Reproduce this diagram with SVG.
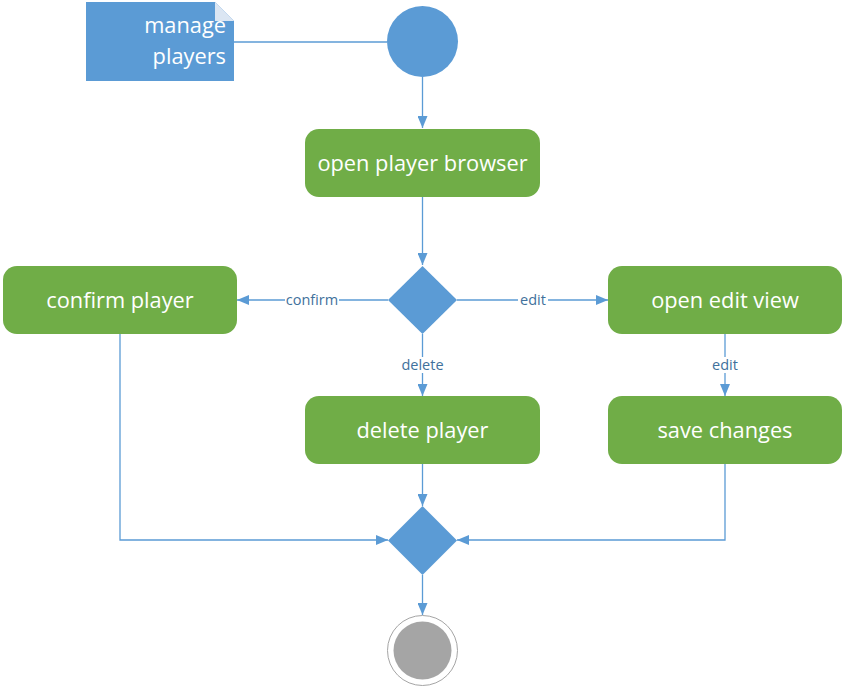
<svg xmlns="http://www.w3.org/2000/svg" width="845" height="688" viewBox="0 0 845 688">
<style>
.act{fill:#70ad47}
.at{font-family:"Open Sans","Liberation Sans",sans-serif;font-size:21.8px;fill:#ffffff;text-anchor:middle}
.dec{fill:#5b9bd5}
.ln{fill:none;stroke:#5b9bd5;stroke-width:1.3}
.lbl{font-family:"Open Sans","Liberation Sans",sans-serif;font-size:14.5px;fill:#41719c;text-anchor:middle}
.lblbg{fill:#ffffff}
</style>
<defs>
<marker id="ah" markerWidth="12" markerHeight="10" refX="12" refY="5" orient="auto" markerUnits="userSpaceOnUse">
<path d="M0,0 L12,5 L0,10 Z" fill="#5b9bd5"/>
</marker>
</defs>
<g id="connectors">
<path class="ln" d="M234,42 H387"/>
<path class="ln" d="M422.5,77 V128" marker-end="url(#ah)"/>
<path class="ln" d="M422.5,197 V265" marker-end="url(#ah)"/>
<path class="ln" d="M388,300 H237" marker-end="url(#ah)"/>
<path class="ln" d="M457,300 H608" marker-end="url(#ah)"/>
<path class="ln" d="M422.5,334 V396" marker-end="url(#ah)"/>
<path class="ln" d="M725,334 V396" marker-end="url(#ah)"/>
<path class="ln" d="M422.5,464 V506" marker-end="url(#ah)"/>
<path class="ln" d="M120,334 V540 H388" marker-end="url(#ah)"/>
<path class="ln" d="M725,464 V540 H457" marker-end="url(#ah)"/>
<path class="ln" d="M422.5,575 V615" marker-end="url(#ah)"/>
<rect class="lblbg" x="285" y="292" width="54" height="16"/>
<text class="lbl" x="312" y="305">confirm</text>
<rect class="lblbg" x="518" y="292" width="30" height="16"/>
<text class="lbl" x="533" y="305">edit</text>
<rect class="lblbg" x="399" y="357" width="47" height="16"/>
<text class="lbl" x="422.5" y="370">delete</text>
<rect class="lblbg" x="710" y="357" width="30" height="16"/>
<text class="lbl" x="725" y="370">edit</text>
</g>
<g id="note">
<path d="M86,2 H215 L234,21 V81 H86 Z" fill="#5b9bd5"/>
<path d="M215,2 L234,21 H215 Z" fill="#dbe6f3"/>
<text class="at" x="226" y="33" style="text-anchor:end">manage</text>
<text class="at" x="226" y="64" style="text-anchor:end">players</text>
</g>
<g id="start">
<circle cx="422.5" cy="41.5" r="35.5" fill="#5b9bd5"/>
</g>
<g id="open-player-browser">
<rect class="act" x="305" y="129" width="235" height="68" rx="14"/>
<text class="at" x="422.5" y="170.5">open player browser</text>
</g>
<g id="decision1">
<path class="dec" d="M422.5,266 L457,300 L422.5,334 L388,300 Z"/>
</g>
<g id="confirm-player">
<rect class="act" x="3" y="266" width="234" height="68" rx="14"/>
<text class="at" x="120" y="307.5">confirm player</text>
</g>
<g id="open-edit-view">
<rect class="act" x="608" y="266" width="234" height="68" rx="14"/>
<text class="at" x="725" y="307.5">open edit view</text>
</g>
<g id="delete-player">
<rect class="act" x="305" y="396" width="235" height="68" rx="14"/>
<text class="at" x="422.5" y="437.5">delete player</text>
</g>
<g id="save-changes">
<rect class="act" x="608" y="396" width="234" height="68" rx="14"/>
<text class="at" x="725" y="437.5">save changes</text>
</g>
<g id="decision2">
<path class="dec" d="M422.5,506 L457,540.5 L422.5,575 L388,540.5 Z"/>
</g>
<g id="end">
<circle cx="422.5" cy="650.5" r="35" fill="#ffffff" stroke="#a5a5a5" stroke-width="1"/>
<circle cx="422.5" cy="650.5" r="29" fill="#a5a5a5"/>
</g>
</svg>
